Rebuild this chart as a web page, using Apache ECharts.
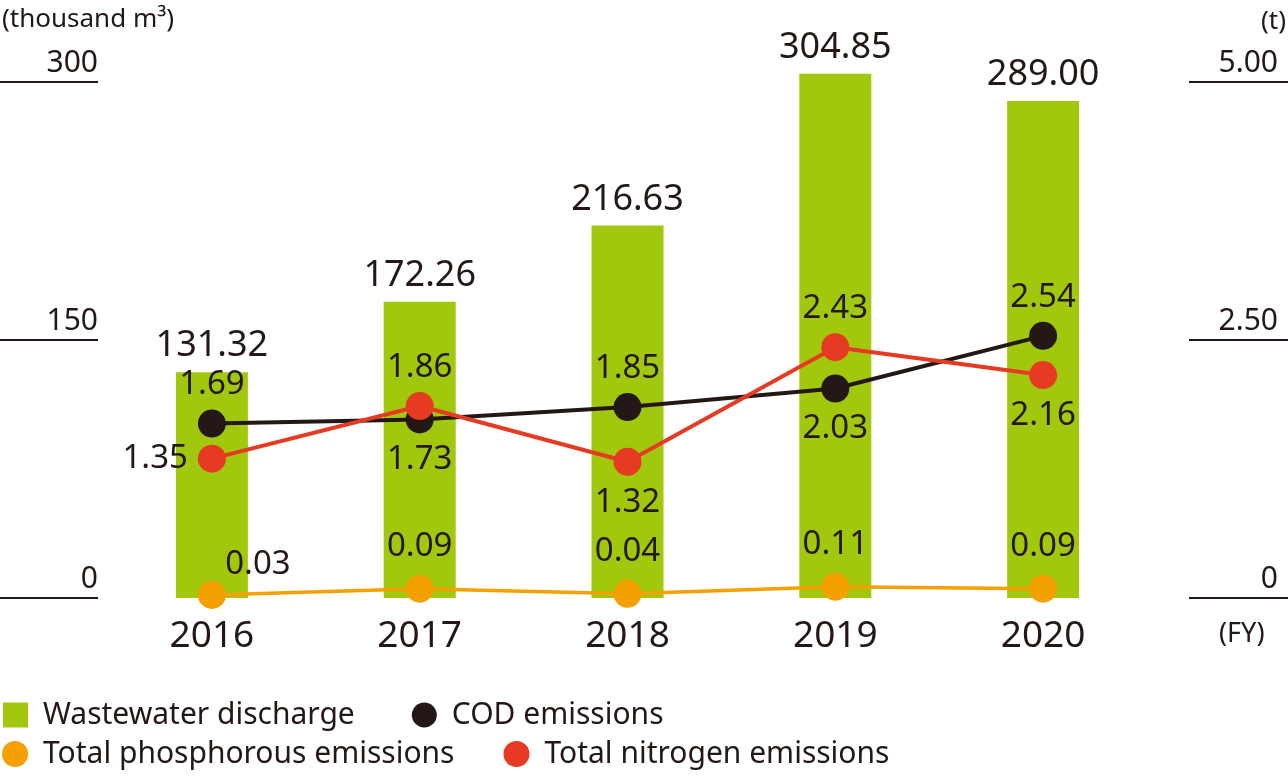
<!DOCTYPE html>
<html>
<head>
<meta charset="utf-8">
<script src="https://cdn.jsdelivr.net/npm/echarts@6/dist/echarts.min.js"></script>
<style>
html,body{margin:0;padding:0;background:#fff;}
#main{width:1288px;height:776px;}
</style>
</head>
<body>
<div id="main"></div>
<script>
var years = ['2016','2017','2018','2019','2020'];
var wastewaterData = [131.32, 172.26, 216.63, 304.85, 289.00];
var codData = [1.69, 1.73, 1.85, 2.03, 2.54];
var phosphorusData = [0.03, 0.09, 0.04, 0.11, 0.09];
var nitrogenData = [1.35, 1.86, 1.32, 2.43, 2.16];
var leftTicks = {0:'0', 150:'150', 300:'300'};
var rightTicks = {0:'0', 2.5:'2.50', 5:'5.00'};

// where each value label sits
var codLabelPos = ['top','bottom','top','bottom','top'];
var nitrogenLabelPos = ['left','top','bottom','top','bottom'];
var phosphorusLabelOffset = [[46,12],[0,0],[0,0],[0,0],[0,0]];

var textColor = '#231815';
var font = '"Noto Sans", sans-serif';

var myChart = echarts.init(document.getElementById('main'));

function fmt(p){
    return Number(p.value).toFixed(2);
}

var codSeriesData = codData.map(function(v,i){
    return {value:v, label:{position:codLabelPos[i], distance: codLabelPos[i]=='top' ? 8 : 10}};
});
var nitrogenSeriesData = nitrogenData.map(function(v,i){
    return {value:v, label:{position:nitrogenLabelPos[i], distance: nitrogenLabelPos[i]=='top' ? 8 : 10}};
});
var phosphorusSeriesData = phosphorusData.map(function(v,i){
    return {value:v, label:{offset:phosphorusLabelOffset[i]}};
});

var lineLabel = {
    show:true,
    fontSize:33,
    fontFamily:font,
    color:textColor,
    formatter:fmt
};

var option = {
    animation:false,
    textStyle:{fontFamily:font, color:textColor},
    title:[
        {text:'(thousand m³)', left:2, top:7, padding:0,
            textStyle:{fontSize:26, fontWeight:'normal', color:textColor, fontFamily:font}},
        {text:'(t)', right:2, top:9, padding:0,
            textStyle:{fontSize:26, fontWeight:'normal', color:textColor, fontFamily:font}},
        {text:'(FY)', left:1219, top:621, padding:0,
            textStyle:{fontSize:27, fontWeight:'normal', color:textColor, fontFamily:font}}
    ],
    legend:[
        {
            left:3, top:700, padding:0, itemWidth:25, itemHeight:25, itemGap:57,
            textStyle:{fontSize:30, color:textColor, fontFamily:font, padding:[0,0,0,10]},
            data:[
                {name:'Wastewater discharge', icon:'rect'},
                {name:'COD emissions', icon:'circle'}
            ]
        },
        {
            left:2, top:739, padding:0, itemWidth:26, itemHeight:26, itemGap:49,
            textStyle:{fontSize:30, color:textColor, fontFamily:font, padding:[0,0,0,10]},
            data:[
                {name:'Total phosphorous emissions', icon:'circle'},
                {name:'Total nitrogen emissions', icon:'circle'}
            ]
        }
    ],
    grid:{left:108, right:141, top:82, bottom:178, outerBoundsMode:'none'},
    xAxis:{
        type:'category',
        data:years,
        axisLine:{show:false},
        axisTick:{show:false},
        axisLabel:{fontSize:37, color:textColor, margin:20, fontFamily:font}
    },
    yAxis:[
        {
            type:'value', position:'left', offset:10,
            min:0, max:300, interval:150,
            axisLine:{show:false},
            splitLine:{show:false},
            axisTick:{show:true, length:98, lineStyle:{color:textColor, width:2}},
            axisLabel:{fontSize:30, color:textColor, margin:0, verticalAlign:'bottom', lineHeight:38, fontFamily:font,
                formatter:function(v){ return leftTicks[v]; }}
        },
        {
            type:'value', position:'right', offset:42,
            min:0, max:5, interval:2.5,
            axisLine:{show:false},
            splitLine:{show:false},
            axisTick:{show:true, length:99, lineStyle:{color:textColor, width:2}},
            axisLabel:{fontSize:30, color:textColor, margin:89, align:'right', verticalAlign:'bottom', lineHeight:38, fontFamily:font,
                formatter:function(v){ return rightTicks[v]; }}
        }
    ],
    series:[
        {
            name:'Wastewater discharge',
            type:'bar',
            yAxisIndex:0,
            barWidth:72,
            clip:false,
            data:wastewaterData,
            itemStyle:{color:'#a2c80e'},
            label:{show:true, position:'top', distance:8, fontSize:36, color:textColor, fontFamily:font, formatter:fmt}
        },
        {
            name:'COD emissions',
            type:'line',
            yAxisIndex:1,
            data:codSeriesData,
            symbol:'circle',
            symbolSize:28,
            itemStyle:{color:textColor},
            lineStyle:{color:textColor, width:4},
            label:lineLabel
        },
        {
            name:'Total phosphorous emissions',
            type:'line',
            yAxisIndex:1,
            data:phosphorusSeriesData,
            symbol:'circle',
            symbolSize:28,
            itemStyle:{color:'#f4a000'},
            lineStyle:{color:'#f4a000', width:3.5},
            label:echarts.util.merge({position:'top', distance:12}, lineLabel, true)
        },
        {
            name:'Total nitrogen emissions',
            type:'line',
            yAxisIndex:1,
            data:nitrogenSeriesData,
            symbol:'circle',
            symbolSize:28,
            itemStyle:{color:'#e63b22'},
            lineStyle:{color:'#e63b22', width:4},
            label:lineLabel
        }
    ]
};

myChart.setOption(option);
</script>
</body>
</html>
